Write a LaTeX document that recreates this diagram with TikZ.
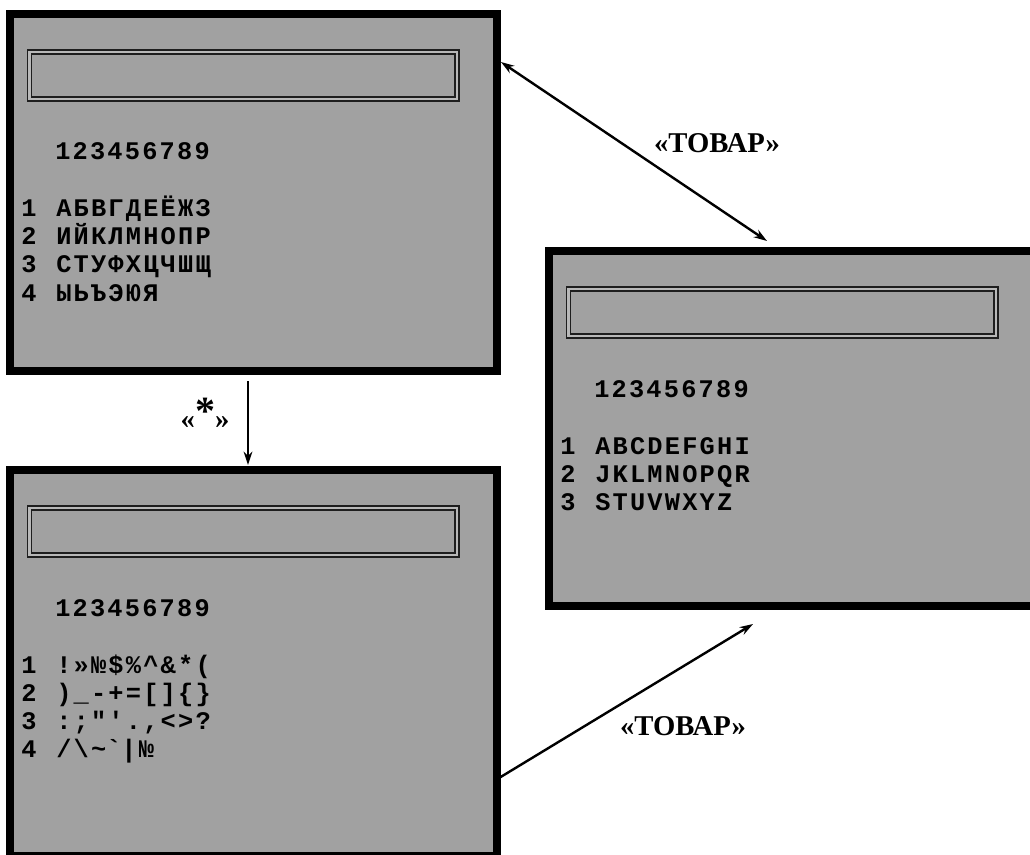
\documentclass[tikz,border=0pt]{standalone}
\usepackage{fontspec}
\setmainfont{Liberation Serif}
\newfontfamily\lcdfont{Liberation Mono}[LetterSpace=8.7]
\usetikzlibrary{arrows.meta}

\definecolor{lcdgray}{RGB}{161,161,161}
\definecolor{lcdline}{RGB}{30,30,30}

\tikzset{
  screen/.style={draw=black, line width=6pt, fill=lcdgray, inner sep=0pt,
    minimum width=365.25pt, anchor=north west},
  display/.style={draw=lcdline, line width=1.1pt, double=lcdgray!75!white,
    double distance=1.9pt, inner sep=0pt, minimum width=320.6pt, minimum height=35.25pt},
  lcdtext/.style={font=\lcdfont\bfseries\fontsize{19}{23}\selectfont,
    inner sep=0pt, anchor=base west},
  keytext/.style={font=\bfseries\fontsize{21.5}{25}\selectfont, inner sep=0pt, anchor=base},
}

\begin{document}
\begin{tikzpicture}[x=0.75pt, y=-0.75pt, >={Stealth[length=10pt,width=6.5pt]}]

  \useasboundingbox (0,0) rectangle (1030,855);
  \clip (0,0) rectangle (1030,855);

  % --- 1. 画面 (3 枚) ---
  \node[screen, minimum height=267.75pt] (scrA) at (6,10) {};
  \node[screen, minimum height=289.5pt] (scrB) at (6,466) {};
  \node[screen, minimum height=266.25pt] (scrC) at (545,247) {};

  % 表示窓 (二重枠)
  \node[display] (dspA) at ([shift={(237.25,65.5)}]scrA.north west) {};
  \node[display] (dspB) at ([shift={(237.25,65.5)}]scrB.north west) {};
  \node[display] (dspC) at ([shift={(237.25,65.5)}]scrC.north west) {};

  % --- 2. 文字表: キリル文字 ---
  \node[lcdtext] (hdrA) at ([shift={(49,150)}]scrA.north west) {123456789};
  \node[lcdtext] (numA1) at ([shift={(15,207)}]scrA.north west) {1};
  \node[lcdtext] (numA2) at ([shift={(15,235)}]scrA.north west) {2};
  \node[lcdtext] (numA3) at ([shift={(15,263)}]scrA.north west) {3};
  \node[lcdtext] (numA4) at ([shift={(15,291)}]scrA.north west) {4};
  \node[lcdtext] (rowA1) at ([shift={(50,207)}]scrA.north west) {АБВГДЕЁЖЗ};
  \node[lcdtext] (rowA2) at ([shift={(50,235)}]scrA.north west) {ИЙКЛМНОПР};
  \node[lcdtext] (rowA3) at ([shift={(50,263)}]scrA.north west) {СТУФХЦЧШЩ};
  \node[lcdtext] (rowA4) at ([shift={(50,291)}]scrA.north west) {ЫЬЪЭЮЯ};

  % --- 3. 文字表: 記号 ---
  \node[lcdtext] (hdrB) at ([shift={(49,150)}]scrB.north west) {123456789};
  \node[lcdtext] (numB1) at ([shift={(15,207)}]scrB.north west) {1};
  \node[lcdtext] (numB2) at ([shift={(15,235)}]scrB.north west) {2};
  \node[lcdtext] (numB3) at ([shift={(15,263)}]scrB.north west) {3};
  \node[lcdtext] (numB4) at ([shift={(15,291)}]scrB.north west) {4};
  \node[lcdtext] (rowB1) at ([shift={(50,207)}]scrB.north west) {!»№\$\%\textasciicircum\&*(};
  \node[lcdtext] (rowB2) at ([shift={(50,235)}]scrB.north west) {)\_-+=[]\{\}};
  \node[lcdtext] (rowB3) at ([shift={(50,263)}]scrB.north west) {:;″′.,<>?};
  \node[lcdtext] (rowB4) at ([shift={(50,291)}]scrB.north west) {/\textbackslash\textasciitilde\textasciigrave|№};

  % --- 4. 文字表: ラテン文字 ---
  \node[lcdtext] (hdrC) at ([shift={(49,150)}]scrC.north west) {123456789};
  \node[lcdtext] (numC1) at ([shift={(15,207)}]scrC.north west) {1};
  \node[lcdtext] (numC2) at ([shift={(15,235)}]scrC.north west) {2};
  \node[lcdtext] (numC3) at ([shift={(15,263)}]scrC.north west) {3};
  \node[lcdtext] (rowC1) at ([shift={(50,207)}]scrC.north west) {ABCDEFGHI};
  \node[lcdtext] (rowC2) at ([shift={(50,235)}]scrC.north west) {JKLMNOPQR};
  \node[lcdtext] (rowC3) at ([shift={(50,263)}]scrC.north west) {STUVWXYZ};

  % --- 5. 矢印とキー ---
  \coordinate (pA1) at ([shift={(0,52)}]scrA.north east);
  \coordinate (pC1) at ([shift={(222,-6)}]scrC.north west);
  \draw[<->, line width=1.8pt] (pA1) -- (pC1);
  \node[keytext] (keyAC) at (717,153) {«ТОВАР»};

  \coordinate (pA2) at ([shift={(242,6)}]scrA.south west);
  \coordinate (pB1) at ([shift={(242,-1)}]scrB.north west);
  \draw[->, line width=1.8pt] (pA2) -- (pB1);
  \node[keytext] (keyAB) at (205,428) {«\raisebox{2.5pt}{\fontsize{30}{30}\selectfont *}»};

  \coordinate (pB2) at ([shift={(-2,312)}]scrB.north east);
  \coordinate (pC2) at ([shift={(208,14)}]scrC.south west);
  \draw[->, line width=1.8pt] (pB2) -- (pC2);
  \node[keytext] (keyBC) at (683,735) {«ТОВАР»};

\end{tikzpicture}
\end{document}
